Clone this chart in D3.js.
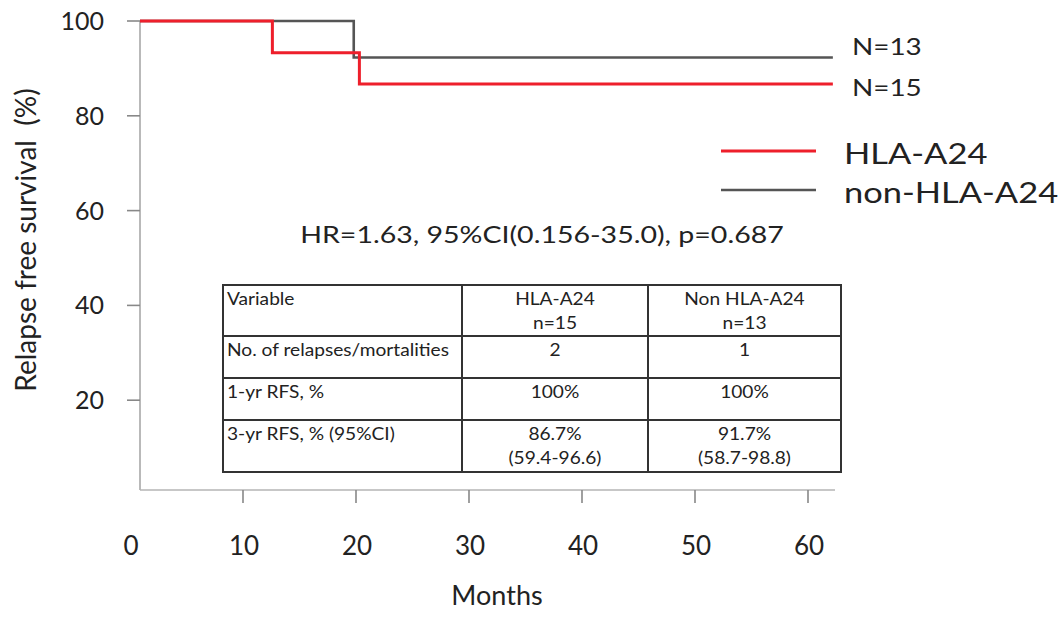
<!DOCTYPE html>
<html><head><meta charset="utf-8">
<script src="https://cdn.jsdelivr.net/npm/d3@7/dist/d3.min.js"></script>
<style>body{margin:0;background:#fff}svg{display:block}text{font-family:Lato,"Open Sans",sans-serif;fill:#222}</style>
</head><body><svg id="c" width="1063" height="621"></svg>
<script>
const xTicks = [0, 10, 20, 30, 40, 50, 60];
const yTicks = [20, 40, 60, 80, 100];
const hlaTimes = [0, 12.6, 20.3, 62.2];
const hlaSurv = [100, 93.3, 86.7, 86.7];
const nonTimes = [0, 19.8, 62.2];
const nonSurv = [100, 92.3, 92.3];
const seriesNames = ["HLA-A24", "non-HLA-A24"];
const seriesN = ["N=15", "N=13"];
const seriesColors = ["#ee1f2b", "#555555"];
const hrText = "HR=1.63, 95%CI(0.156-35.0), p=0.687";
const tableHeader = [["Variable"], ["HLA-A24", "n=15"], ["Non HLA-A24", "n=13"]];
const tableRows = [
  [["No. of relapses/mortalities"], ["2"], ["1"]],
  [["1-yr RFS, %"], ["100%"], ["100%"]],
  [["3-yr RFS, % (95%CI)"], ["86.7%", "(59.4-96.6)"], ["91.7%", "(58.7-98.8)"]]
];

const svg = d3.select("#c");
const x = d3.scaleLinear().domain([0, 60]).range([130, 808]);
const y = d3.scaleLinear().domain([0, 100]).range([495, 21]);
const axisX = 140, axisY = 490, plotRight = 835;

// horizontally widen text (anchor: "start" | "middle")
function stretch(sel, factor, anchor) {
  sel.each(function () {
    const t = d3.select(this);
    const w = this.getComputedTextLength();
    const nx = +t.attr("x");
    t.attr("textLength", w * factor).attr("lengthAdjust", "spacingAndGlyphs")
     .attr("text-anchor", "start")
     .attr("x", anchor === "middle" ? nx - w * factor / 2 : nx);
  });
}

// y axis
svg.append("line").attr("x1", axisX).attr("x2", axisX).attr("y1", y(100)).attr("y2", axisY)
  .attr("stroke", "#a8a8a8").attr("stroke-width", 1.6);
svg.selectAll(".yt").data(yTicks).join("line")
  .attr("x1", axisX - 13).attr("x2", axisX).attr("y1", d => y(d)).attr("y2", d => y(d))
  .attr("stroke", "#888").attr("stroke-width", 1.6);
svg.selectAll(".yl").data(yTicks).join("text")
  .attr("x", 104).attr("y", d => y(d) + 9).attr("text-anchor", "end")
  .attr("font-size", 25).text(d => d);
// x axis
svg.append("line").attr("x1", axisX).attr("x2", plotRight).attr("y1", axisY).attr("y2", axisY)
  .attr("stroke", "#b4b4b4").attr("stroke-width", 1.6);
svg.selectAll(".xt").data(xTicks.filter(d => d > 0)).join("line")
  .attr("x1", d => x(d)).attr("x2", d => x(d)).attr("y1", axisY).attr("y2", axisY + 13)
  .attr("stroke", "#888").attr("stroke-width", 1.6);
svg.selectAll(".xl").data(xTicks).join("text")
  .attr("x", d => x(d) + 1).attr("y", 555).attr("text-anchor", "middle")
  .attr("font-size", 26).text(d => d);
svg.append("text").attr("x", 497).attr("y", 605).attr("text-anchor", "middle")
  .attr("font-size", 27).text("Months");
svg.append("text").attr("transform", "translate(36,240) rotate(-90)").attr("text-anchor", "middle")
  .attr("font-size", 28).attr("xml:space", "preserve").text("Relapse free survival  (%)");

// curves
svg.append("clipPath").attr("id", "clip").append("rect")
  .attr("x", axisX).attr("y", 0).attr("width", plotRight - axisX + 5).attr("height", axisY);
const line = d3.line().x(d => x(d[0])).y(d => y(d[1])).curve(d3.curveStepAfter);
const g = svg.append("g").attr("clip-path", "url(#clip)");
g.append("path").datum(d3.zip(nonTimes, nonSurv)).attr("d", line)
  .attr("fill", "none").attr("stroke", seriesColors[1]).attr("stroke-width", 2.6);
g.append("path").datum(d3.zip(hlaTimes, hlaSurv)).attr("d", line)
  .attr("fill", "none").attr("stroke", seriesColors[0]).attr("stroke-width", 3);

// N labels
svg.append("text").attr("x", 852).attr("y", y(nonSurv[2]) - 2).attr("font-size", 24)
  .text(seriesN[1]).call(stretch, 1.16, "start");
svg.append("text").attr("x", 852).attr("y", y(hlaSurv[3]) + 12).attr("font-size", 24)
  .text(seriesN[0]).call(stretch, 1.16, "start");

// legend
seriesNames.forEach((n, i) => {
  const ly = 151 + i * 39;
  svg.append("line").attr("x1", 721).attr("x2", 816).attr("y1", ly).attr("y2", ly)
    .attr("stroke", seriesColors[i]).attr("stroke-width", i === 0 ? 3 : 2.6);
  svg.append("text").attr("x", 844).attr("y", ly + 13).attr("font-size", 28).text(n)
    .call(stretch, 1.23, "start");
});

// HR text
svg.append("text").attr("x", 542).attr("y", 243).attr("font-size", 23).text(hrText)
  .call(stretch, 1.24, "middle");

// table
const colX = [223, 462, 648, 841];
const rowY = [285, 336, 378, 420, 472];
const tg = svg.append("g");
const allRows = [tableHeader].concat(tableRows);
tg.append("rect").attr("x", colX[0]).attr("y", rowY[0]).attr("width", colX[3] - colX[0])
  .attr("height", rowY[4] - rowY[0]).attr("fill", "none").attr("stroke", "#333").attr("stroke-width", 2);
colX.slice(1, 3).forEach(cx => tg.append("line").attr("x1", cx).attr("x2", cx)
  .attr("y1", rowY[0]).attr("y2", rowY[4]).attr("stroke", "#333").attr("stroke-width", 2));
rowY.slice(1, 4).forEach(ry => tg.append("line").attr("x1", colX[0]).attr("x2", colX[3])
  .attr("y1", ry).attr("y2", ry).attr("stroke", "#333").attr("stroke-width", 2));
allRows.forEach((row, ri) => {
  row.forEach((cell, ci) => {
    cell.forEach((t, li) => {
      tg.append("text")
        .attr("x", ci === 0 ? colX[0] + 4 : (colX[ci] + colX[ci + 1]) / 2)
        .attr("y", rowY[ri] + 20 + li * 24)
        .attr("font-size", 16.5).text(t)
        .call(stretch, 1.16, ci === 0 ? "start" : "middle");
    });
  });
});
</script></body></html>
